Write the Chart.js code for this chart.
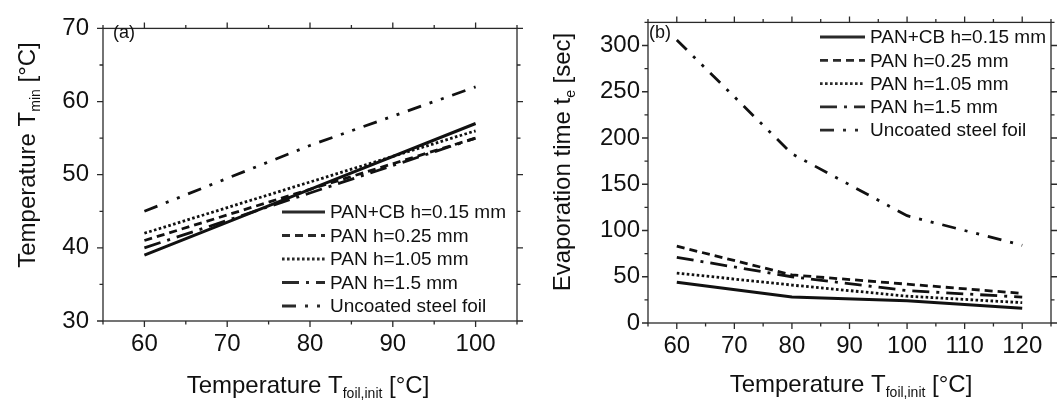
<!DOCTYPE html>
<html>
<head>
<meta charset="utf-8">
<script src="https://cdn.jsdelivr.net/npm/chart.js@4.4.1/dist/chart.umd.min.js"></script>
<style>
  html, body { margin: 0; padding: 0; background: #fff; }
  #wrap { position: relative; width: 1060px; height: 405px; }
  .panel { position: absolute; top: 0; width: 530px; height: 405px; }
  #panel-a { left: 0; }
  #panel-b { left: 530px; }
</style>
</head>
<body>
<div id="wrap">
  <div class="panel" id="panel-a"><canvas id="chart-a" width="530" height="405"></canvas></div>
  <div class="panel" id="panel-b"><canvas id="chart-b" width="530" height="405"></canvas></div>
</div>
<script>
// (a) minimum temperature vs initial foil temperature
const foilTempA = [60, 80, 100];
const tminPanCb015 = [39, 48, 57];
const tminPan025 = [41, 48, 55];
const tminPan105 = [42, 49, 56];
const tminPan15 = [40, 47.5, 55];
const tminUncoated = [45, 54, 62];

// (b) evaporation time vs initial foil temperature
const foilTempB = [60, 80, 100, 120];
const tePanCb015 = [44, 28, 24, 16];
const tePan025 = [83, 52, 42, 32];
const tePan105 = [54, 41, 29, 22];
const tePan15 = [71, 50, 35, 28];
const teUncoated = [306, 183, 116, 84];

const seriesLabels = ['PAN+CB h=0.15 mm', 'PAN h=0.25 mm', 'PAN h=1.05 mm', 'PAN h=1.5 mm', 'Uncoated steel foil'];
const lineDashes = [[], [8, 5], [2.6, 2.4], [17, 7, 3, 7], [14, 9, 3, 9, 3, 9]];

const INK = '#111';
const FONT = "'Liberation Sans', Arial, sans-serif";

Chart.defaults.font.family = FONT;
Chart.defaults.color = INK;

function buildDatasets(xs, columns) {
    return columns.map((col, i) => ({
        label: seriesLabels[i],
        data: xs.map((x, j) => ({ x: x, y: col[j] })),
        borderColor: INK,
        borderWidth: i === 0 ? 3 : 2.8,
        borderDash: lineDashes[i],
        borderCapStyle: 'butt',
        pointRadius: 0,
        tension: 0,
        fill: false
    }));
}

// text with subscript runs, e.g. T_min
function drawRich(ctx, parts, x, y, size) {
    const subSize = Math.round(size * 0.58);
    const fontOf = p => (p.sub ? subSize : size) + 'px ' + FONT;
    let total = 0;
    parts.forEach(p => { ctx.font = fontOf(p); total += ctx.measureText(p.t).width; });
    let cx = x - total / 2;
    ctx.textAlign = 'left';
    ctx.textBaseline = 'alphabetic';
    parts.forEach(p => {
        ctx.font = fontOf(p);
        ctx.fillText(p.t, cx, p.sub ? y + size * 0.22 : y);
        cx += ctx.measureText(p.t).width;
    });
}

// frame, mirrored outward ticks, axis titles, panel tag and in-plot legend
const decorPlugin = {
    id: 'decor',
    afterDraw(chart, args, opts) {
        const ctx = chart.ctx;
        const a = chart.chartArea;
        const xs = chart.scales.x;
        const ys = chart.scales.y;
        ctx.save();
        ctx.strokeStyle = '#2a2a2a';
        ctx.lineWidth = 1.3;
        ctx.setLineDash([]);
        ctx.strokeRect(a.left, a.top, a.right - a.left, a.bottom - a.top);

        ctx.beginPath();
        xs.ticks.forEach(t => {
            const px = xs.getPixelForValue(t.value);
            const len = t.value % opts.xMajor === 0 ? 6 : 3.5;
            ctx.moveTo(px, a.bottom); ctx.lineTo(px, a.bottom + len);
            ctx.moveTo(px, a.top); ctx.lineTo(px, a.top - len);
        });
        ys.ticks.forEach(t => {
            const py = ys.getPixelForValue(t.value);
            const len = t.value % opts.yMajor === 0 ? 6 : 3.5;
            ctx.moveTo(a.left, py); ctx.lineTo(a.left - len, py);
            ctx.moveTo(a.right, py); ctx.lineTo(a.right + len, py);
        });
        ctx.stroke();

        ctx.fillStyle = INK;
        drawRich(ctx, opts.xTitle, opts.xTitlePos[0], opts.xTitlePos[1], 24);
        ctx.save();
        ctx.translate(opts.yTitlePos[0], opts.yTitlePos[1]);
        ctx.rotate(-Math.PI / 2);
        drawRich(ctx, opts.yTitle, 0, 0, 24);
        ctx.restore();

        ctx.font = '18px ' + FONT;
        ctx.textAlign = 'left';
        ctx.textBaseline = 'middle';
        ctx.fillText(opts.tag, opts.tagPos[0], opts.tagPos[1]);

        const lg = opts.legend;
        ctx.font = '19px ' + FONT;
        chart.data.datasets.forEach((ds, i) => {
            const y = lg.y + i * lg.row;
            ctx.beginPath();
            ctx.lineWidth = ds.borderWidth;
            ctx.lineCap = 'butt';
            ctx.setLineDash(ds.borderDash);
            ctx.moveTo(lg.x, y);
            ctx.lineTo(lg.x + lg.len, y);
            ctx.stroke();
            ctx.fillText(ds.label, lg.x + lg.len + 5, y + 1);
        });
        ctx.restore();
    }
};

function makePanel(canvasId, datasets, cfg) {
    const ctx = document.getElementById(canvasId).getContext('2d');
    return new Chart(ctx, {
        type: 'line',
        data: { datasets: datasets },
        options: {
            responsive: false,
            animation: false,
            layout: { padding: { top: 15, right: cfg.padRight, left: 0, bottom: 0 } },
            plugins: {
                legend: { display: false },
                tooltip: { enabled: false },
                decor: cfg.decor
            },
            scales: {
                x: {
                    type: 'linear',
                    min: cfg.xMin, max: cfg.xMax,
                    grid: { display: false, drawTicks: false },
                    border: { display: false },
                    ticks: {
                        stepSize: 5, autoSkip: false, maxRotation: 0, padding: 9,
                        font: { size: 24 },
                        callback: v => (v % 10 === 0 ? v : '')
                    },
                    afterFit: s => { s.height = cfg.xAxisHeight; }
                },
                y: {
                    min: cfg.yMin, max: cfg.yMax,
                    grid: { display: false, drawTicks: false },
                    border: { display: false },
                    ticks: {
                        stepSize: cfg.yStep, autoSkip: false, padding: cfg.yPad,
                        font: { size: 24 },
                        callback: v => (v % cfg.decor.yMajor === 0 ? v : '')
                    },
                    afterFit: s => { s.width = cfg.yAxisWidth; }
                }
            }
        },
        plugins: [decorPlugin]
    });
}

makePanel('chart-a',
    buildDatasets(foilTempA, [tminPanCb015, tminPan025, tminPan105, tminPan15, tminUncoated]), {
    xMin: 55, xMax: 105, yMin: 30, yMax: 70, yStep: 5, yPad: 14,
    yAxisWidth: 103, xAxisHeight: 84, padRight: 13,
    decor: {
        xMajor: 10, yMajor: 10,
        xTitle: [{ t: 'Temperature T' }, { t: 'foil,init', sub: true }, { t: ' [°C]' }],
        xTitlePos: [308, 393],
        yTitle: [{ t: 'Temperature T' }, { t: 'min', sub: true }, { t: ' [°C]' }],
        yTitlePos: [35, 155],
        tag: '(a)', tagPos: [113, 33],
        legend: { x: 282, y: 212, row: 23.5, len: 43 }
    }
});

makePanel('chart-b',
    buildDatasets(foilTempB, [tePanCb015, tePan025, tePan105, tePan15, teUncoated]), {
    xMin: 55, xMax: 125, yMin: 0, yMax: 325, yStep: 25, yPad: 8,
    yAxisWidth: 118, xAxisHeight: 82, padRight: 1,
    decor: {
        xMajor: 10, yMajor: 50,
        xTitle: [{ t: 'Temperature T' }, { t: 'foil,init', sub: true }, { t: ' [°C]' }],
        xTitlePos: [321, 392],
        yTitle: [{ t: 'Evaporation time t' }, { t: 'e', sub: true }, { t: ' [sec]' }],
        yTitlePos: [40, 162],
        tag: '(b)', tagPos: [119, 33],
        legend: { x: 290, y: 37, row: 23.3, len: 45 }
    }
});
</script>
</body>
</html>
